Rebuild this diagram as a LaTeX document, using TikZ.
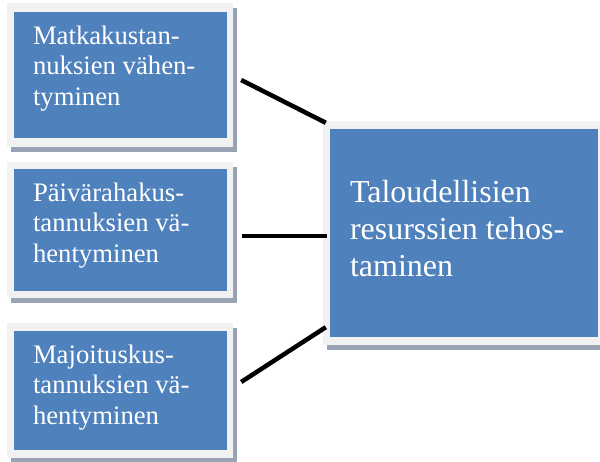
\documentclass[tikz,border=0pt]{standalone}
\usepackage{fontspec}
\setmainfont{Liberation Serif}
\usetikzlibrary{shadows}
\definecolor{boxblue}{HTML}{4F81BD}
\definecolor{rim}{HTML}{F2F2F2}
\definecolor{shade}{HTML}{98A4B6}
\newcommand\smalltxt{\fontsize{26.7}{30.7}\selectfont}
\newcommand\bigtxt{\fontsize{32}{37}\selectfont}
\tikzset{
  frame/.style={fill=rim, draw=none, inner sep=0pt,
    drop shadow={shadow xshift=4pt, shadow yshift=-5pt, fill=shade, opacity=1}},
  core/.style={fill=boxblue, draw=none, inner sep=0pt},
  label/.style={anchor=base west, inner sep=0pt, text=white},
  link/.style={line width=4.5pt, black}
}
\begin{document}
\begin{tikzpicture}[x=1pt, y=1pt]
  \useasboundingbox (0,0) rectangle (600,461);

  % left column: three cost items
  \node[frame, minimum width=226pt, minimum height=144pt] (f1) at (120,386) {};
  \node[core, minimum width=213pt, minimum height=126pt] (b1) at (120.5,386) {};
  \node[label, font=\smalltxt] (t1) at ([shift={(19,-32.5)}]b1.north west)
    {\parbox[t]{210pt}{Matkakustan-\\nuksien vähen-\\tyminen}};

  \node[frame, minimum width=226pt, minimum height=136pt] (f2) at (120,231) {};
  \node[core, minimum width=213pt, minimum height=122pt] (b2) at (120.5,231) {};
  \node[label, font=\smalltxt] (t2) at ([shift={(19,-32.5)}]b2.north west)
    {\parbox[t]{210pt}{Päivärahakus-\\tannuksien vä-\\hentyminen}};

  \node[frame, minimum width=226pt, minimum height=135pt] (f3) at (120,70.5) {};
  \node[core, minimum width=213pt, minimum height=119pt] (b3) at (120.5,70.5) {};
  \node[label, font=\smalltxt] (t3) at ([shift={(19,-32.5)}]b3.north west)
    {\parbox[t]{210pt}{Majoituskus-\\tannuksien vä-\\hentyminen}};

  % right: the common goal
  \node[frame, minimum width=277pt, minimum height=224pt] (g) at (461.5,228) {};
  \node[core, minimum width=268pt, minimum height=208pt] (gb) at (464,228) {};
  \node[label, font=\bigtxt] (gt) at ([shift={(20,-74)}]gb.north west)
    {\parbox[t]{260pt}{Taloudellisien\\resurssien tehos-\\taminen}};

  % connectors
  \draw[link] ([shift={(8,-5)}]f1.east) -- ([shift={(3,-2)}]g.north west);
  \draw[link] ([shift={(9,-6)}]f2.east) -- ([shift={(4,-3)}]g.west);
  \draw[link] ([shift={(8,8.5)}]f3.east) -- ([shift={(3,18)}]g.south west);
\end{tikzpicture}
\end{document}
